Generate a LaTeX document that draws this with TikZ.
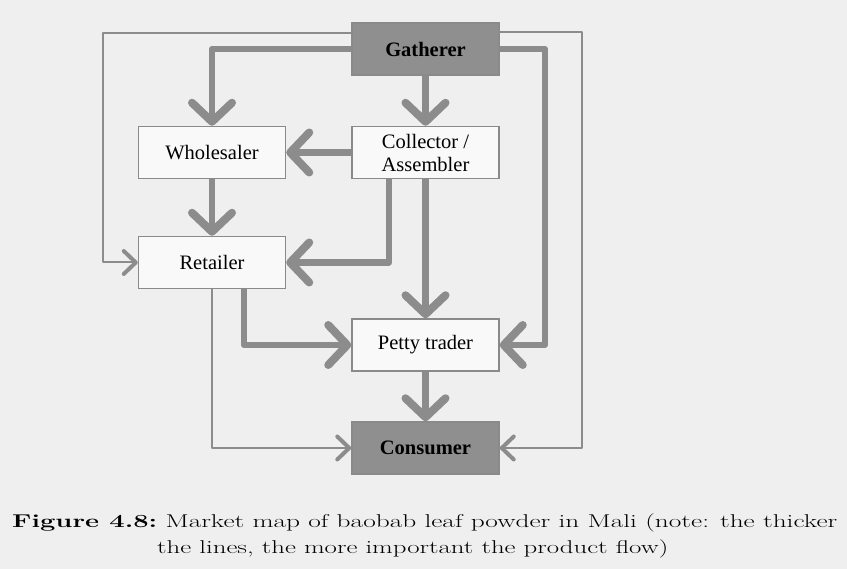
\documentclass[tikz,border=0pt]{standalone}
\usepackage{fontspec}
\newfontfamily\boxfont{Liberation Serif}
\usetikzlibrary{arrows.meta}
\definecolor{bg}{HTML}{EFEFEF}
\definecolor{flow}{HTML}{8C8C8C}
\definecolor{boxline}{HTML}{8A8A8A}
\definecolor{dark}{HTML}{8F8F8F}
\definecolor{boxfill}{HTML}{F9F9F9}
\begin{document}
\begin{tikzpicture}[x=1pt,y=-1pt,
  actor/.style={draw=boxline,line width=1.5pt,fill=boxfill,minimum width=147pt,
    minimum height=52pt,inner sep=0pt,align=center,
    font=\boxfont\fontsize{20.5}{23}\selectfont},
  endpoint/.style={actor,fill=dark,font=\boxfont\bfseries\fontsize{20.5}{23}\selectfont},
  major/.style={draw=flow,line width=6.5pt,line join=round,
    -{Straight Barb[length=19pt,width=40pt,line width'=8pt,round]}},
  minor/.style={draw=flow,line width=2pt,line join=round,
    -{Straight Barb[length=12pt,width=23pt,line width'=4pt,round]}},
  caption/.style={anchor=base west,inner sep=0pt,font=\fontsize{18.5}{22}\selectfont},
]
\fill[bg] (0,0) rectangle (847,569);

% actors in the chain
\node[endpoint] (gath)  at (425.5,49)    {Gatherer};
\node[actor]    (whole) at (212,152.5)   {Wholesaler};
\node[actor]    (coll)  at (425.5,152.5) {Collector /\\Assembler};
\node[actor]    (ret)   at (212,262.5)   {Retailer};
\node[actor]    (petty) at (425.5,345)   {Petty trader};
\node[endpoint] (cons)  at (425.5,448)   {Consumer};

% minor flows
\draw[minor] ([yshift=16pt]gath.west) -- ++(-248,0) |- (ret.west);
\draw[minor] ([yshift=17pt]gath.east) -- ++(82,0) |- (cons.east);
\draw[minor] (ret.south) |- (cons.west);

% major flows
\draw[major] (gath.west) -| (whole.north);
\draw[major] (gath.east) -- ++(45,0) |- (petty.east);
\draw[major] (gath.south) -- (coll.north);
\draw[major] (coll.west) -- (whole.east);
\draw[major] (whole.south) -- (ret.north);
\draw[major] ([xshift=-36.5pt]coll.south) |- (ret.east);
\draw[major] (coll.south) -- (petty.north);
\draw[major] ([xshift=32pt]ret.south) |- (petty.west);
\draw[major] (petty.south) -- (cons.north);

% caption
\node[caption] (cap1) at (12,527) {\resizebox{825pt}{\height}{\textbf{Figure 4.8:}\ Market map of baobab leaf powder in Mali (note: the thicker}};
\node[caption] (cap2) at (157,554) {\resizebox{511pt}{\height}{the lines, the more important the product flow)}};
\end{tikzpicture}
\end{document}
